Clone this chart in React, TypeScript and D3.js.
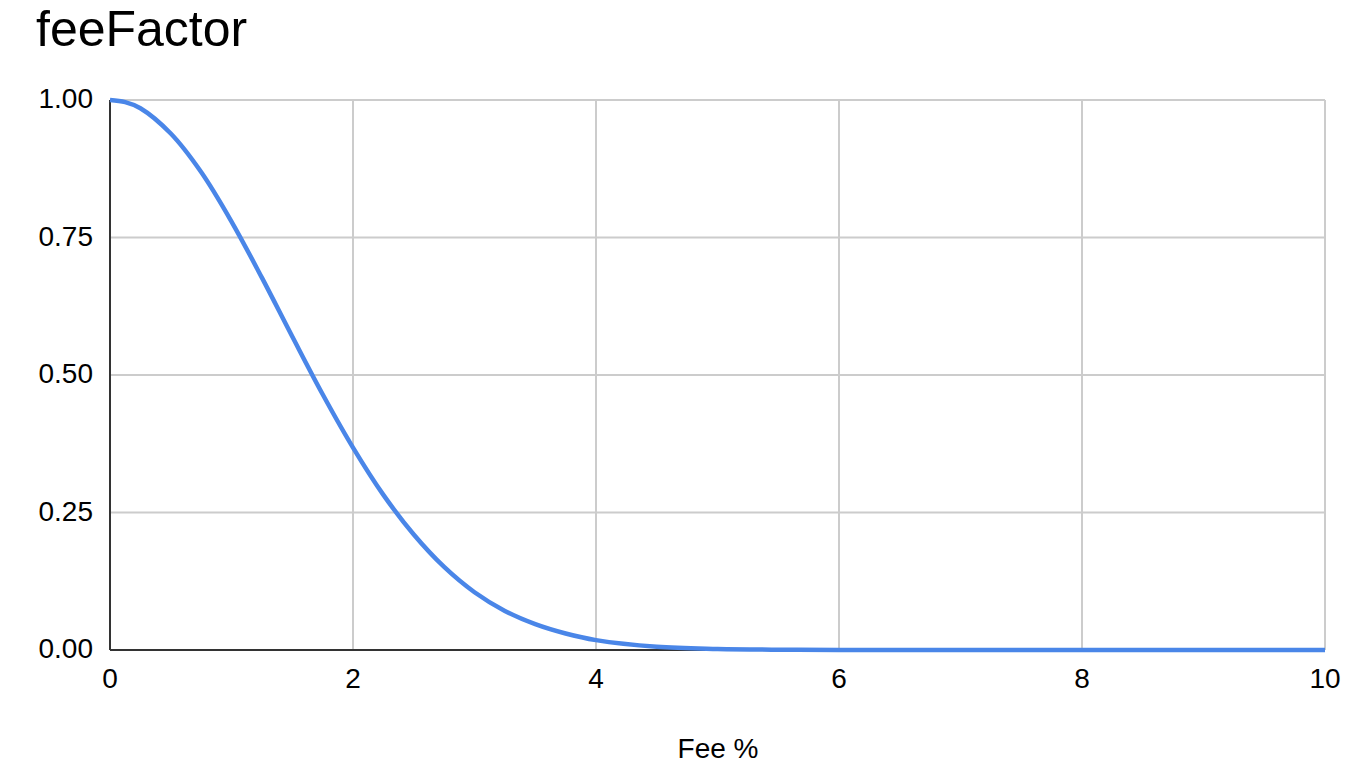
import React from 'react';
import * as d3 from 'd3';

const feePct = [0, 0.125, 0.25, 0.5, 0.75, 1, 1.25, 1.5, 1.75, 2, 2.25, 2.5, 2.75, 3, 3.25, 3.5, 3.75, 4, 4.5, 5, 5.5, 6, 7, 8, 9, 10];
const feeFactor = [1.0, 0.996, 0.985, 0.939, 0.869, 0.779, 0.677, 0.57, 0.465, 0.368, 0.282, 0.21, 0.151, 0.105, 0.071, 0.047, 0.03, 0.018, 0.006, 0.002, 0.0005, 0, 0, 0, 0, 0];
const xTicks = [0, 2, 4, 6, 8, 10];
const yTicks = [0, 0.25, 0.5, 0.75, 1];

const width = 1362;
const height = 766;
const margin = { top: 100, right: 37, bottom: 116, left: 110 };
const font = '"Liberation Sans", Arial, sans-serif';

export default function App() {
  const x = d3.scaleLinear().domain([0, 10]).range([margin.left, width - margin.right]);
  const y = d3.scaleLinear().domain([0, 1]).range([height - margin.bottom, margin.top]);

  const points = feePct.map((f, i) => [f, feeFactor[i]] as [number, number]);
  const line = d3.line<[number, number]>()
    .x(d => x(d[0]))
    .y(d => y(d[1]))
    .curve(d3.curveCatmullRom.alpha(0.5));

  return (
    <svg width={width} height={height} style={{ position: 'absolute', left: 0, top: 0, background: '#fff' }} fontFamily={font}>
      <text x={36} y={46} fontSize={50} fill="#000">feeFactor</text>

      {/* grid */}
      {xTicks.filter(t => t !== 0).map(t => (
        <line key={'gx' + t} x1={x(t)} x2={x(t)} y1={y(1)} y2={y(0)} stroke="#cccccc" strokeWidth={2} />
      ))}
      {yTicks.filter(t => t !== 0).map(t => (
        <line key={'gy' + t} x1={x(0)} x2={x(10)} y1={y(t)} y2={y(t)} stroke="#cccccc" strokeWidth={2} />
      ))}

      {/* axes */}
      <line x1={x(0)} x2={x(0)} y1={y(1)} y2={y(0)} stroke="#333" strokeWidth={2} />
      <line x1={x(0)} x2={x(10)} y1={y(0)} y2={y(0)} stroke="#333" strokeWidth={2} />

      {yTicks.map(t => (
        <text key={'ly' + t} x={x(0) - 17} y={y(t)} dy="0.3em" textAnchor="end" fontSize={28} fill="#000">
          {d3.format('.2f')(t)}
        </text>
      ))}
      {xTicks.map(t => (
        <text key={'lx' + t} x={x(t)} y={688} textAnchor="middle" fontSize={28} fill="#000">
          {t}
        </text>
      ))}

      <path d={line(points) ?? ''} fill="none" stroke="#4a86e8" strokeWidth={4.5} strokeLinejoin="round" />

      <text x={718} y={758} textAnchor="middle" fontSize={28} fill="#000">Fee %</text>
    </svg>
  );
}
